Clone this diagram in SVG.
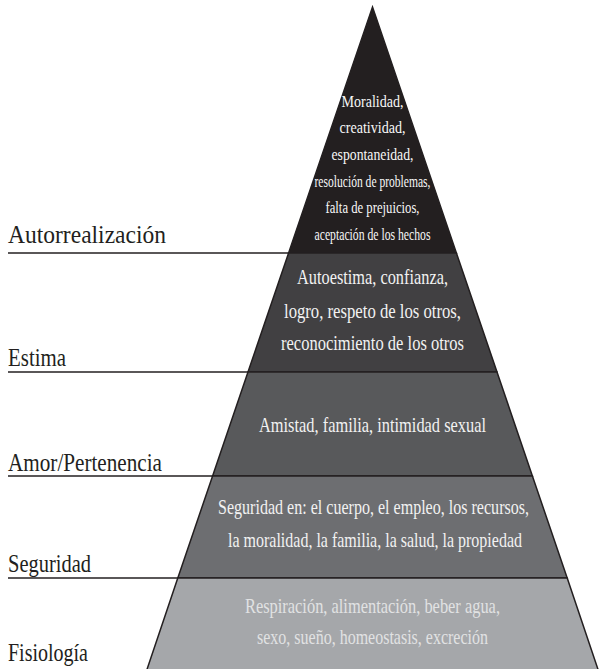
<svg xmlns="http://www.w3.org/2000/svg" width="599" height="669" viewBox="0 0 599 669">
<style>
.lbl{font-family:"Liberation Serif","DejaVu Serif",serif;font-size:26px;fill:#231f20}
.in{font-family:"Liberation Serif","DejaVu Serif",serif;font-size:21px;fill:#f2f2f2;text-anchor:middle}
.sm{font-family:"Liberation Serif","DejaVu Serif",serif;font-size:16px;fill:#f7f7f7;text-anchor:middle}
.band{stroke:#231f20;stroke-width:1.5;stroke-linejoin:miter}
.lead{stroke:#231f20;stroke-width:1.5;fill:none}
</style>
<rect width="599" height="669" fill="#ffffff"/>
<g id="autorrealizacion">
<polygon class="band" points="372.5,7 456.4,253 288.6,253" fill="#231f20"/>
<text class="sm" x="372.5" y="107" textLength="62" lengthAdjust="spacingAndGlyphs">Moralidad,</text>
<text class="sm" x="372.5" y="133" textLength="66" lengthAdjust="spacingAndGlyphs">creatividad,</text>
<text class="sm" x="372.5" y="160" textLength="82" lengthAdjust="spacingAndGlyphs">espontaneidad,</text>
<text class="sm" x="372.5" y="187" textLength="116" lengthAdjust="spacingAndGlyphs">resolución de problemas,</text>
<text class="sm" x="372.5" y="213" textLength="94" lengthAdjust="spacingAndGlyphs">falta de prejuicios,</text>
<text class="sm" x="372.5" y="240" textLength="116" lengthAdjust="spacingAndGlyphs">aceptación de los hechos</text>
<text class="lbl" x="8" y="243" textLength="158" lengthAdjust="spacingAndGlyphs">Autorrealización</text>
</g>
<g id="estima">
<polygon class="band" points="288.6,253 456.4,253 497,372 248,372" fill="#414042"/>
<text class="in" x="372.5" y="284" textLength="151" lengthAdjust="spacingAndGlyphs">Autoestima, confianza,</text>
<text class="in" x="372.5" y="318" textLength="177" lengthAdjust="spacingAndGlyphs">logro, respeto de los otros,</text>
<text class="in" x="372.5" y="350" textLength="183" lengthAdjust="spacingAndGlyphs">reconocimiento de los otros</text>
<text class="lbl" x="8" y="366" textLength="58" lengthAdjust="spacingAndGlyphs">Estima</text>
</g>
<g id="amor">
<polygon class="band" points="248,372 497,372 532.4,476 212.6,476" fill="#58595b"/>
<text class="in" x="372.5" y="432" textLength="227" lengthAdjust="spacingAndGlyphs">Amistad, familia, intimidad sexual</text>
<text class="lbl" x="8" y="471" textLength="154" lengthAdjust="spacingAndGlyphs">Amor/Pertenencia</text>
</g>
<g id="seguridad">
<polygon class="band" points="212.6,476 532.4,476 567.2,578 177.8,578" fill="#6d6e71"/>
<text class="in" x="373.5" y="514" textLength="311" lengthAdjust="spacingAndGlyphs">Seguridad en: el cuerpo, el empleo, los recursos,</text>
<text class="in" x="375" y="547" textLength="294" lengthAdjust="spacingAndGlyphs">la moralidad, la familia, la salud, la propiedad</text>
<text class="lbl" x="8" y="572" textLength="83" lengthAdjust="spacingAndGlyphs">Seguridad</text>
</g>
<g id="fisiologia">
<polygon class="band" points="177.8,578 567.2,578 598.2,670 146.8,670" fill="#a5a7aa"/>
<text class="in" x="372.5" y="613" textLength="255" lengthAdjust="spacingAndGlyphs" style="fill:#e1e2e3">Respiración, alimentación, beber agua,</text>
<text class="in" x="372.5" y="644" textLength="231" lengthAdjust="spacingAndGlyphs" style="fill:#e1e2e3">sexo, sueño, homeostasis, excreción</text>
<text class="lbl" x="8" y="661" textLength="80" lengthAdjust="spacingAndGlyphs">Fisiología</text>
</g>
<g id="connectors">
<line class="lead" x1="8" y1="253" x2="288.6" y2="253"/>
<line class="lead" x1="8" y1="372" x2="248" y2="372"/>
<line class="lead" x1="8" y1="476" x2="212.6" y2="476"/>
<line class="lead" x1="8" y1="578" x2="177.8" y2="578"/>
</g>
</svg>
